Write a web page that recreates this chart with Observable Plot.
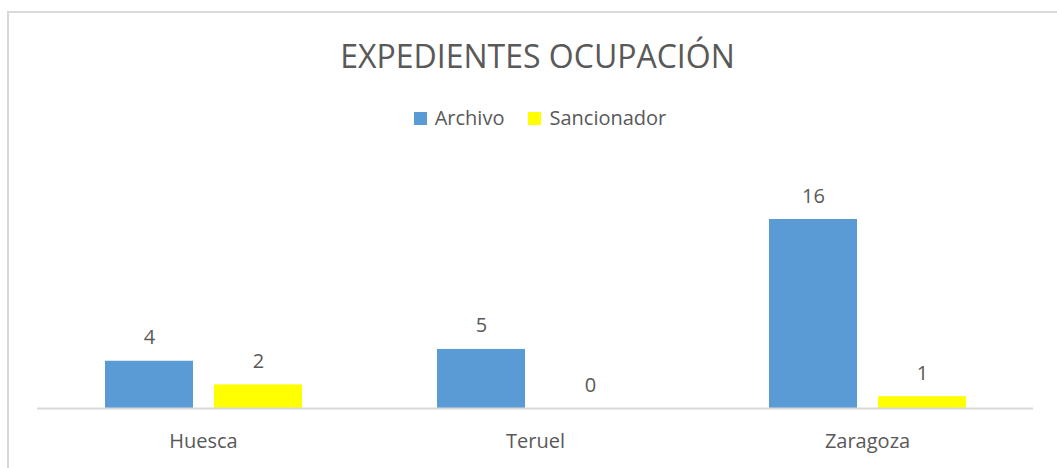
<!DOCTYPE html>
<html>
<head>
<meta charset="utf-8">
<script src="https://cdn.jsdelivr.net/npm/d3@7"></script>
<script src="https://cdn.jsdelivr.net/npm/@observablehq/plot@0.6"></script>
<style>
  html, body { margin: 0; padding: 0; background: #fff; overflow: hidden; width: 1057px; height: 468px; }
  body { position: relative; font-family: "Open Sans", sans-serif; color: #595959; }
  #frame { position: absolute; left: 7px; top: 11px; width: 1100px; height: 500px; border: 2px solid #d9d9d9; box-sizing: border-box; }
  #title { position: absolute; left: 0; width: 1075px; top: 40px; text-align: center; font-size: 32px; line-height: 32px; white-space: nowrap; }
  #legend { position: absolute; left: 0; width: 1080px; top: 108px; text-align: center; font-size: 20px; line-height: 20px; white-space: nowrap; }
  .item { display: inline-block; margin: 0 12px; }
  .sw { display: inline-block; width: 13px; height: 13px; margin-right: 8px; vertical-align: baseline; }
  #chart { position: absolute; left: 0; top: 140px; }
</style>
</head>
<body>
<div id="frame"></div>
<div id="title"></div>
<div id="legend"></div>
<div id="chart"></div>
<script>
const titleText = "EXPEDIENTES OCUPACIÓN";
const regions = ["Huesca", "Teruel", "Zaragoza"];
const seriesNames = ["Archivo", "Sancionador"];
const archivo = [4, 5, 16];
const sancionador = [2, 0, 1];
const seriesColors = ["#5B9BD5", "#FFFF00"];

const data = [];
regions.forEach((r, i) => {
  data.push({region: r, series: seriesNames[0], value: archivo[i]});
  data.push({region: r, series: seriesNames[1], value: sancionador[i]});
});

document.getElementById("title").textContent = titleText;
const legend = document.getElementById("legend");
seriesNames.forEach((s, i) => {
  const item = document.createElement("span");
  item.className = "item";
  const sw = document.createElement("span");
  sw.className = "sw";
  sw.style.background = seriesColors[i];
  item.appendChild(sw);
  item.appendChild(document.createTextNode(s));
  legend.appendChild(item);
});

const chart = Plot.plot({
  width: 1057,
  height: 320,
  marginLeft: 37,
  marginRight: 24,
  marginTop: 79,
  marginBottom: 52,
  style: {fontFamily: "Open Sans, sans-serif", fontSize: "20px", color: "#595959", background: "transparent"},
  facet: {data, x: "region"},
  fx: {domain: regions, padding: 0, axis: "bottom", tickSize: 0, tickPadding: 25, label: null},
  x: {domain: seriesNames, paddingInner: 0.1927, paddingOuter: 0.619, axis: null},
  y: {domain: [0, 16], axis: null},
  color: {domain: seriesNames, range: seriesColors},
  marks: [
    Plot.barY(data, {x: "series", y: "value", fill: "series"}),
    Plot.ruleY([0], {stroke: "#d9d9d9", strokeWidth: 2}),
    Plot.text(data, {x: "series", y: "value", text: d => String(d.value), lineAnchor: "bottom", dy: -17, fill: "#595959", fontSize: 20})
  ]
});
document.getElementById("chart").appendChild(chart);
</script>
</body>
</html>
